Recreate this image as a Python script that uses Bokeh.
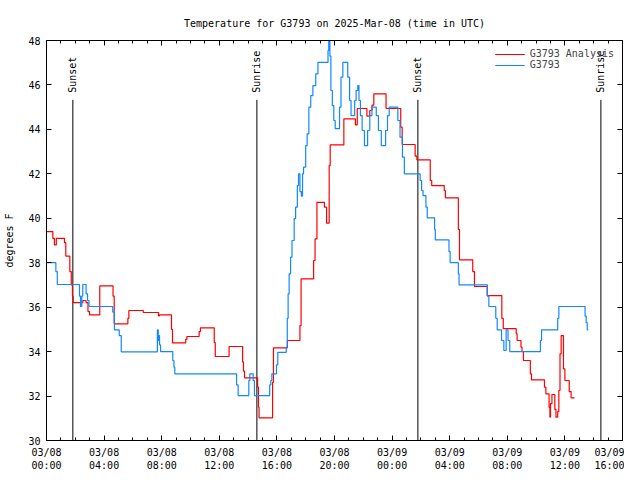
from bokeh.plotting import figure
from bokeh.models import (FixedTicker, LinearAxis, CustomJSTickFormatter, Legend, LegendItem, ColumnDataSource)
from bokeh.core.properties import value
from bokeh.embed import file_html
from bokeh.resources import INLINE

# hours after 2025-03-08 00:00 UTC
analysis_hours = [0.0, 0.44, 0.55, 0.68, 1.25, 1.34, 1.62, 1.72, 1.80, 1.85, 2.52, 2.75, 2.88, 2.99,
                  3.70, 4.62, 4.70, 5.65, 5.72, 6.72, 7.78, 7.85, 8.68, 8.75, 9.67, 9.75, 10.60, 10.69,
                  11.65, 11.72, 12.68, 13.62, 13.68, 13.75, 14.66, 14.72, 14.76, 15.70, 15.76, 16.73,
                  17.60, 17.68, 18.55, 18.65, 18.78, 19.30, 19.45, 19.63, 19.70, 20.65, 21.45, 21.58,
                  22.25, 22.45, 22.60, 22.73, 23.58, 24.60, 24.70, 25.60, 25.72, 26.65, 26.75, 27.62,
                  27.70, 28.60, 28.68, 29.60, 29.72, 30.60, 31.62, 31.72, 32.62, 32.68, 32.95, 33.02,
                  33.12, 33.60, 33.68, 34.58, 34.68, 34.90, 34.96, 35.00, 35.10, 35.30, 35.38, 35.50,
                  35.58, 35.66, 35.74, 35.90, 36.00, 36.30, 36.43, 36.67]
analysis_temps = [39.4, 39.1, 38.8, 39.1, 38.9, 38.3, 37.6, 37.0, 36.5, 36.2, 36.3, 36.2, 35.8, 35.65,
                  36.96, 36.5, 35.25, 35.5, 35.85, 35.76, 35.61, 35.65, 35.0, 34.39, 34.55, 34.68, 34.9, 35.07,
                  34.4, 33.78, 34.23, 33.53, 33.12, 32.82, 32.4, 31.5, 31.02, 32.62, 34.17, 34.5,
                  35.17, 37.27, 38.1, 39.07, 40.72, 40.5, 39.78, 42.37, 43.3, 44.47, 44.2, 44.94,
                  44.6, 44.85, 45.09, 45.6, 44.94, 44.1, 43.32, 42.8, 42.63, 41.7, 41.47, 41.25,
                  40.92, 39.5, 38.13, 37.6, 36.93, 36.52, 35.5, 35.03, 34.8, 34.5, 34.2, 34.0,
                  33.6, 33.0, 32.73, 32.4, 32.1, 31.5, 31.05, 31.66, 32.07, 31.4, 31.05, 31.3,
                  32.25, 33.9, 34.72, 33.22, 32.7, 32.2, 31.92, 31.92]

station_hours = [0.0, 0.65, 0.75, 2.29, 2.36, 2.45, 2.52, 2.75, 2.85, 2.95, 4.60, 4.72, 5.05, 5.19,
                 7.70, 7.76, 7.80, 7.85, 7.92, 8.77, 8.85, 8.91, 13.20, 13.31, 14.05, 14.12, 14.35, 14.44,
                 15.50, 15.58, 15.65, 15.97, 16.06, 16.65, 16.72, 16.78, 16.85, 16.95, 17.05, 17.20,
                 17.30, 17.42, 17.50, 17.60, 17.70, 17.78, 17.85, 18.00, 18.10, 18.22, 18.35, 18.50,
                 18.70, 18.85, 19.55, 19.60, 19.68, 19.75, 19.85, 19.95, 20.05, 20.35, 20.45, 20.58,
                 20.92, 21.05, 21.15, 21.40, 21.50, 21.62, 21.70, 21.80, 21.92, 22.08, 22.30, 22.45,
                 22.60, 22.90, 23.05, 23.25, 23.55, 23.68, 23.80, 24.40, 24.55, 24.72, 24.85, 25.95,
                 26.05, 26.15, 26.35, 26.44, 26.95, 27.00, 27.95, 28.03, 28.60, 28.65, 30.62, 30.72,
                 31.20, 31.30, 31.60, 31.76, 31.92, 32.05, 32.17, 34.30, 34.38, 35.50, 35.58, 37.40,
                 37.48, 37.55, 37.62]
station_temps = [38.0, 37.6, 37.02, 36.5, 36.03, 36.5, 37.02, 36.6, 36.3, 36.03, 35.78, 34.98, 34.72, 33.99,
                 34.98, 34.5, 34.72, 34.3, 34.0, 33.6, 33.3, 33.0, 32.5, 32.02, 32.7, 33.0, 32.7, 32.02,
                 32.5, 32.7, 33.0, 33.4, 33.97, 34.2, 35.5, 36.6, 37.5, 38.25, 39.0, 39.98,
                 40.5, 41.47, 42.0, 41.2, 41.0, 42.0, 42.3, 43.27, 43.8, 45.0, 45.52, 45.97,
                 46.5, 47.02, 47.55, 48.0, 47.3, 45.75, 45.07, 44.4, 44.03, 45.0, 46.35, 47.02,
                 46.35, 45.3, 44.62, 45.3, 45.75, 45.97, 45.3, 44.62, 43.95, 43.27, 43.95, 44.62,
                 45.0, 44.62, 43.95, 43.27, 43.95, 44.62, 45.0, 44.4, 43.65, 42.75, 42.0, 41.7,
                 41.25, 41.02, 40.5, 40.02, 39.5, 39.03, 38.5, 38.0, 37.5, 37.0, 36.5, 36.03,
                 35.5, 34.98, 34.5, 34.05, 34.98, 34.5, 34.0, 34.5, 34.98, 35.5, 36.03, 35.6,
                 35.3, 34.98, 34.98]

sun_hours = [1.83, 14.61, 25.79, 38.50]
sun_labels = ["Sunset", "Sunrise", "Sunset", "Sunrise"]
sun_line_top = [45.33, 45.33, 45.33, 45.33]
sun_line_bottom = [30, 30, 30, 30]

tick_hours = [0, 4, 8, 12, 16, 20, 24, 28, 32, 36, 40]
tick_labels = ["03/08\n00:00", "03/08\n04:00", "03/08\n08:00", "03/08\n12:00", "03/08\n16:00",
               "03/08\n20:00", "03/09\n00:00", "03/09\n04:00", "03/09\n08:00", "03/09\n12:00",
               "03/09\n16:00"]
y_ticks = [30, 32, 34, 36, 38, 40, 42, 44, 46, 48]

FONT = "DejaVu Sans Mono"
FS = "10px"

p = figure(frame_width=576, frame_height=400, x_range=(0, 40), y_range=(30, 48),
           output_backend="svg", toolbar_location=None,
           min_border_left=46, min_border_right=2, min_border_top=40, min_border_bottom=30,
           title="Temperature for G3793 on 2025-Mar-08 (time in UTC)")
p.title.align = "center"
p.title.text_font = FONT
p.title.text_font_size = FS
p.title.text_font_style = "normal"
p.title.text_color = "black"
p.title.standoff = 23
p.xgrid.visible = False
p.ygrid.visible = False
p.outline_line_color = "black"
p.outline_line_width = 1
p.background_fill_color = "white"
p.border_fill_color = "white"

xt = FixedTicker(ticks=tick_hours, minor_ticks=list(range(0, 41)))
yt = FixedTicker(ticks=y_ticks, minor_ticks=[])

def style_axis(ax):
    ax.major_tick_in = 5
    ax.major_tick_out = 0
    ax.minor_tick_in = 3
    ax.minor_tick_out = 0
    ax.axis_line_color = "black"
    ax.major_tick_line_color = "black"
    ax.minor_tick_line_color = "black"
    ax.major_label_text_font = FONT
    ax.major_label_text_font_size = FS
    ax.major_label_text_color = "black"
    ax.axis_label_text_font = FONT
    ax.axis_label_text_font_size = FS
    ax.axis_label_text_font_style = "normal"
    ax.axis_label_text_color = "black"

xa = p.xaxis[0]
xa.ticker = xt
xa.major_label_overrides = {t: l for t, l in zip(tick_hours, tick_labels)}
style_axis(xa)
xa.major_label_standoff = 6

ya = p.yaxis[0]
ya.ticker = yt
style_axis(ya)
ya.minor_tick_in = 0
ya.axis_label = "degrees F"
ya.major_label_standoff = 6
ya.axis_label_standoff = 10

blank = CustomJSTickFormatter(code="return ''")
top_ax = LinearAxis(ticker=xt, formatter=blank)
style_axis(top_ax)
top_ax.major_label_standoff = 0
top_ax.major_label_text_font_size = "0px"
p.add_layout(top_ax, "above")
right_ax = LinearAxis(ticker=yt, formatter=blank)
style_axis(right_ax)
right_ax.minor_tick_in = 0
right_ax.major_label_standoff = 0
right_ax.major_label_text_font_size = "0px"
p.add_layout(right_ax, "right")

sun_src = ColumnDataSource(dict(x=sun_hours, top=sun_line_top, bottom=sun_line_bottom, label=sun_labels))
p.segment(x0="x", y0="bottom", x1="x", y1="top", source=sun_src, line_color="black", line_width=1)
p.text(x="x", y="top", text="label", source=sun_src, angle=1.5708, text_align="left",
       text_baseline="middle", y_offset=-7, text_font=value(FONT), text_font_size=FS, text_color="black")

r1 = p.step(analysis_hours, analysis_temps, mode="after", line_color="#ff0000", line_width=1.2)
r2 = p.step(station_hours, station_temps, mode="after", line_color="#1188ff", line_width=1.2)

legend = Legend(items=[LegendItem(label="G3793 Analysis", renderers=[r1]),
                       LegendItem(label="G3793", renderers=[r2])],
                location="top_right")
legend.background_fill_alpha = 0
legend.border_line_alpha = 0
legend.label_text_font = FONT
legend.label_text_font_size = FS
legend.glyph_width = 30
legend.glyph_height = 10
legend.label_height = 10
legend.spacing = 0
legend.padding = 2
legend.margin = 6
p.add_layout(legend)

open("out.html", "w").write(file_html(p, INLINE))
